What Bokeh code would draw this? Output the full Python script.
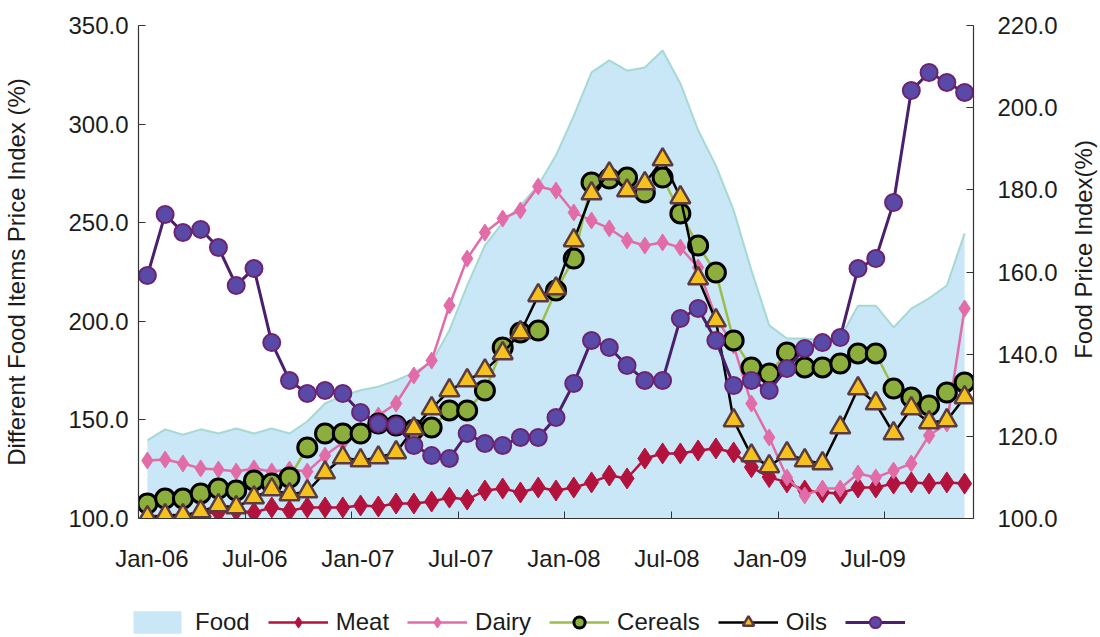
import math

import numpy as np
from bokeh.plotting import figure
from bokeh.layouts import column, row
from bokeh.core.properties import value
from bokeh.models import (Range1d, LinearAxis, FixedTicker, NumeralTickFormatter,
                          Legend, LegendItem)
from bokeh.embed import file_html
from bokeh.resources import INLINE

# ---- data: monthly price indices, Jan-06 .. Nov-09 ----
month_names = ["Jan", "Feb", "Mar", "Apr", "May", "Jun",
               "Jul", "Aug", "Sep", "Oct", "Nov", "Dec"]
years = ["06", "07", "08", "09"]
months = [f"{m}-{y}" for y in years for m in month_names][:47]
x = list(range(len(months)))

tick_labels = ["Jan-06", "Jul-06", "Jan-07", "Jul-07",
               "Jan-08", "Jul-08", "Jan-09", "Jul-09"]

food = [119.0, 121.7, 120.4, 121.7, 120.7, 121.9, 120.7, 121.9, 120.7, 123.6,
        128.0, 129.9, 131.2, 132.1, 133.6, 135.5, 138.0, 145.8, 156.7, 166.5,
        172.0, 176.2, 181.1, 188.4, 198.0, 208.6, 211.5, 209.0, 209.8, 213.9,
        205.9, 194.5, 185.9, 175.0, 160.4, 147.0, 143.8, 143.8, 143.3, 144.0,
        151.8, 151.8, 146.5, 151.1, 153.6, 156.7, 169.4]

meat = [101.0, 101.5, 102.0, 102.5, 103.0, 104.0, 103.0, 105.6, 104.0, 105.6,
        105.6, 105.6, 106.6, 106.1, 107.6, 107.6, 108.6, 110.6, 109.6, 114.2,
        115.2, 113.2, 115.7, 114.2, 115.7, 118.3, 121.8, 120.3, 130.4, 133.0,
        133.0, 134.5, 135.5, 133.5, 126.0, 121.0, 118.3, 114.2, 113.2, 112.7,
        115.7, 115.7, 117.7, 118.3, 117.7, 118.3, 117.7]

dairy = [129.4, 129.9, 127.9, 125.4, 124.8, 123.8, 125.4, 123.8, 124.8, 123.8,
         131.9, 138.5, 144.6, 152.2, 158.3, 172.5, 180.1, 208.0, 231.8, 245.0,
         252.1, 256.2, 268.4, 266.3, 255.2, 251.1, 247.1, 241.0, 238.4, 240.0,
         237.4, 227.3, 201.9, 187.7, 158.3, 141.1, 120.8, 111.7, 115.2, 115.2,
         122.8, 120.8, 124.3, 127.9, 142.1, 148.2, 206.5]

cereals = [107.6, 110.1, 110.1, 112.7, 115.2, 114.2, 119.3, 117.7, 120.8, 136.0,
           143.1, 143.1, 143.1, 148.2, 147.2, 145.0, 146.1, 154.8, 154.8, 164.9,
           186.7, 194.3, 195.3, 215.6, 231.8, 270.4, 272.4, 272.9, 265.3, 272.9,
           254.7, 238.4, 224.7, 190.3, 176.6, 173.5, 184.2, 176.6, 176.6, 178.6,
           183.7, 183.7, 165.9, 161.4, 157.3, 163.9, 169.0]

oils = [100.5, 101.5, 101.5, 103.5, 106.6, 105.6, 110.6, 114.7, 112.2, 113.7,
        123.3, 130.9, 129.4, 130.9, 133.5, 145.6, 155.8, 164.9, 170.0, 175.0,
        183.7, 194.3, 213.1, 216.6, 241.0, 264.8, 274.9, 266.3, 269.9, 282.0,
        262.8, 221.7, 200.4, 149.7, 131.9, 126.4, 133.0, 129.4, 127.9, 146.1,
        165.9, 158.3, 143.1, 155.8, 148.7, 149.7, 161.4]

sugar = [223.2, 254.2, 245.0, 246.6, 237.4, 218.2, 226.8, 189.2, 170.0, 163.4,
         164.9, 163.4, 153.8, 148.2, 147.2, 137.0, 131.9, 130.4, 143.1, 138.0,
         137.0, 141.1, 141.1, 151.2, 168.5, 190.3, 186.7, 177.6, 170.0, 170.0,
         201.4, 206.5, 190.3, 167.4, 170.0, 164.9, 176.1, 186.2, 189.2, 191.8,
         226.8, 231.8, 260.2, 317.0, 326.2, 321.1, 316.0]

left_ticks = [100, 150, 200, 250, 300, 350]
right_ticks = [100, 120, 140, 160, 180, 200, 220]

# ---- styling ----
FONT = "Liberation Sans"
TEXT = "#1c1c1c"
AXIS = "#333333"
FOOD_FILL = "#c9e7f6"
FOOD_EDGE = "#a6d9d4"
MEAT = "#b3123c"
DAIRY = "#e26ca8"
CEREAL_LINE = "#9dbd4b"
CEREAL_FILL = "#8cae3c"
OIL_FILL = "#f5c21d"
OIL_EDGE = "#5b3a40"
SUGAR_LINE = "#4a1f6e"
SUGAR_FILL = "#5a4aa8"
SUGAR_EDGE = "#6c2472"

MEAT_STYLE = dict(marker="diamond", fill_color=MEAT, line_color=MEAT)
DAIRY_STYLE = dict(marker="diamond", fill_color=DAIRY, line_color=DAIRY)
CEREAL_STYLE = dict(marker="circle", fill_color=CEREAL_FILL, line_color="black",
                    line_width=3)
OIL_STYLE = dict(marker="triangle", fill_color=OIL_FILL, line_color=OIL_EDGE,
                 line_width=2.5)
SUGAR_STYLE = dict(marker="circle", fill_color=SUGAR_FILL, line_color=SUGAR_EDGE,
                   line_width=2)

# label anchors and between-category tick marks on the month axis
label_pos = [0.25, 6.05, 11.85, 17.65, 23.45, 29.25, 35.05, 40.85]
mark_pos = [5.5, 11.5, 17.5, 23.5, 29.5, 35.5, 41.5]

MAIN_W, MAIN_H = 1060, 590

p = figure(width=MAIN_W, height=MAIN_H, output_backend="svg", toolbar_location=None,
           x_range=Range1d(-0.5, len(x) - 0.5), y_range=Range1d(100, 350),
           min_border_left=137, min_border_right=85,
           min_border_top=25, min_border_bottom=72)
p.outline_line_color = None
p.grid.visible = False
p.background_fill_color = "white"
p.border_fill_color = "white"
p.extra_y_ranges = {"food": Range1d(100, 220)}


def style_axis(ax):
    ax.axis_line_color = AXIS
    ax.axis_line_width = 1.2
    ax.major_tick_line_color = AXIS
    ax.major_tick_in = 7
    ax.major_tick_out = 0
    ax.minor_tick_line_color = None
    ax.major_label_text_font = FONT
    ax.major_label_text_font_size = "24px"
    ax.major_label_text_color = TEXT
    ax.axis_label_text_font = FONT
    ax.axis_label_text_font_size = "24px"
    ax.axis_label_text_font_style = "normal"
    ax.axis_label_text_color = TEXT


# left axis
ly = p.yaxis[0]
style_axis(ly)
ly.ticker = FixedTicker(ticks=left_ticks)
ly.formatter = NumeralTickFormatter(format="0.0")
ly.axis_label = "Different Food Items Price Index (%)"
ly.major_label_standoff = 10
ly.axis_label_standoff = 35

# right axis (its title is drawn in the strip to the right)
ry = LinearAxis(y_range_name="food")
style_axis(ry)
ry.ticker = FixedTicker(ticks=right_ticks)
ry.formatter = NumeralTickFormatter(format="0.0")
ry.major_label_standoff = 24
p.add_layout(ry, "right")

# bottom axis
bx = p.xaxis[0]
style_axis(bx)
bx.ticker = FixedTicker(ticks=label_pos, minor_ticks=mark_pos)
bx.major_label_overrides = dict(zip(label_pos, tick_labels))
bx.major_tick_line_color = None
bx.minor_tick_line_color = AXIS
bx.minor_tick_in = 7
bx.minor_tick_out = 0
bx.major_label_standoff = 26

# Food index as a shaded area on the right-hand scale
p.varea(x=x, y1=[100] * len(x), y2=food, y_range_name="food", fill_color=FOOD_FILL)
p.line(x, food, y_range_name="food", line_color=FOOD_EDGE, line_width=2)

p.line(x, meat, line_color=MEAT, line_width=2.5)
p.scatter(x, meat, size=21, **MEAT_STYLE)

p.line(x, dairy, line_color=DAIRY, line_width=2.5)
p.scatter(x, dairy, size=17, **DAIRY_STYLE)

p.line(x, cereals, line_color=CEREAL_LINE, line_width=2.5)
p.scatter(x, cereals, size=19, **CEREAL_STYLE)

p.line(x, oils, line_color="black", line_width=2.5)
p.scatter(x, oils, size=20, **OIL_STYLE)

p.line(x, sugar, line_color=SUGAR_LINE, line_width=3)
p.scatter(x, sugar, size=17, **SUGAR_STYLE)

# ---- right-hand axis title, reading bottom to top ----
TITLE_W = 1100 - MAIN_W
pt = figure(width=TITLE_W, height=MAIN_H, output_backend="svg", toolbar_location=None,
            x_range=Range1d(0, TITLE_W), y_range=Range1d(0, MAIN_H),
            x_axis_type=None, y_axis_type=None, min_border=0)
pt.outline_line_color = None
pt.grid.visible = False
pt.text(x=[23], y=[MAIN_H - 268], text=["Food Price Index(%)"], angle=math.pi / 2,
        text_align="center", text_baseline="middle", text_font=value(FONT),
        text_font_size="24px", text_color=TEXT)

# ---- legend strip under the chart ----
# key renderers hold a single NaN point: nothing is plotted, but the legend
# still draws their glyphs
LEG_H = 637 - MAIN_H
pl = figure(width=1100, height=LEG_H, output_backend="svg", toolbar_location=None,
            x_range=Range1d(0, 1100), y_range=Range1d(0, LEG_H),
            x_axis_type=None, y_axis_type=None, min_border=0)
pl.outline_line_color = None
pl.grid.visible = False

blank = np.array([np.nan])
k_food = pl.varea(x=blank, y1=blank, y2=blank, fill_color=FOOD_FILL)
k_meat = [pl.line(blank, blank, line_color=MEAT, line_width=2.5),
          pl.scatter(blank, blank, **MEAT_STYLE)]
k_dairy = [pl.line(blank, blank, line_color=DAIRY, line_width=2.5),
           pl.scatter(blank, blank, **DAIRY_STYLE)]
k_cereal = [pl.line(blank, blank, line_color=CEREAL_LINE, line_width=2.5),
            pl.scatter(blank, blank, **CEREAL_STYLE)]
k_oil = [pl.line(blank, blank, line_color="black", line_width=2.5),
         pl.scatter(blank, blank, **OIL_STYLE)]
k_sugar = [pl.line(blank, blank, line_color=SUGAR_LINE, line_width=3),
           pl.scatter(blank, blank, **SUGAR_STYLE)]

legend = Legend(items=[
    LegendItem(label="Food", renderers=[k_food]),
    LegendItem(label="Meat", renderers=k_meat),
    LegendItem(label="Dairy", renderers=k_dairy),
    LegendItem(label="Cereals", renderers=k_cereal),
    LegendItem(label="Oils", renderers=k_oil),
    LegendItem(label=" ", renderers=k_sugar),
], orientation="horizontal", location=(127, 1))
legend.glyph_width = 60
legend.glyph_height = 28
legend.label_standoff = 8
legend.spacing = 18
legend.padding = 0
legend.margin = 0
legend.border_line_color = None
legend.background_fill_alpha = 0
legend.label_text_font = FONT
legend.label_text_font_size = "24px"
legend.label_text_color = TEXT
pl.add_layout(legend)

layout = column(row(p, pt, spacing=0), pl, spacing=0)

open("out.html", "w").write(file_html(layout, INLINE))
